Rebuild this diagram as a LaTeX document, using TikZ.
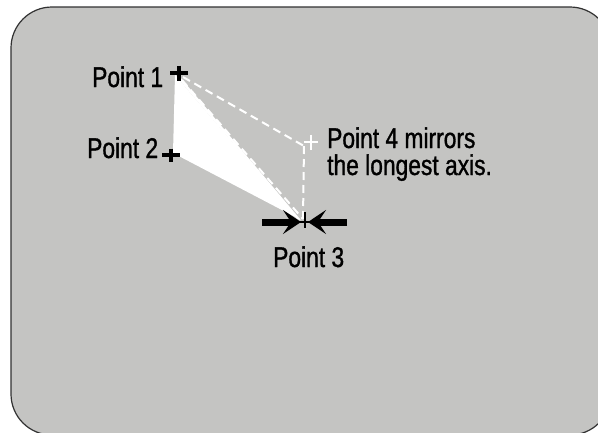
\documentclass[tikz,border=0pt]{standalone}
\usepackage{fontspec}
\setmainfont{Liberation Sans}[FakeStretch=0.8,FakeBold=1.1]
\usetikzlibrary{arrows.meta,calc}
\definecolor{panelgray}{RGB}{196,196,194}
\definecolor{panelborder}{RGB}{50,50,50}
\tikzset{
  lbl/.style={anchor=base west, inner sep=0pt, font=\fontsize{28.5}{29}\selectfont, text=black},
  darkcross/.style={line width=3.5pt, black},
  whitecross/.style={line width=2.2pt, white},
  guide/.style={white, line width=2pt, dash pattern=on 8pt off 5pt},
  pincer/.style={line width=7pt, black, -{Stealth[length=18pt,width=24pt,inset=8pt]}}
}
\begin{document}
\begin{tikzpicture}[x=1pt,y=-1pt]
\useasboundingbox (0,0) rectangle (598,432);
\clip (0,0) rectangle (598,432);
\fill[white] (0,0) rectangle (598,432);
\draw[panelborder, fill=panelgray, line width=1.2pt, rounded corners=41pt] (11,7) rectangle (611,435);

% points
\coordinate (p1) at (179,73);
\coordinate (p2) at (171,155);
\coordinate (p3) at (305,222);
\coordinate (p4) at (311,142);
\coordinate (p4c) at (304,146);

% white filled wedge
\fill[white] (175,75) -- (173,153) -- (301,220) -- (299,220) -- cycle;
\fill[white] (175,75) -- (180,77) -- (300,219) -- (297,219) -- cycle;

% dashed guides
\draw[guide] (183,77) -- (p4c);
\draw[guide] (p4c) -- (303,219);
\draw[guide] (182,80) -- (303,219);

% crosses
\draw[darkcross] ($(p1)+(-9,0)$) -- ($(p1)+(9,0)$);
\draw[darkcross] ($(p1)+(0,-7.5)$) -- ($(p1)+(0,7.5)$);
\draw[darkcross] ($(p2)+(-9,0)$) -- ($(p2)+(9,0)$);
\draw[darkcross] ($(p2)+(0,-6.5)$) -- ($(p2)+(0,6.5)$);
\draw[whitecross] ($(p4)+(-7,0)$) -- ($(p4)+(7,0)$);
\draw[whitecross] ($(p4)+(0,-7.5)$) -- ($(p4)+(0,7.5)$);

% pincer arrows at point 3
\coordinate (la) at (262,222);
\coordinate (ra) at (347,222);
\draw[pincer] (la) -- (301,222);
\draw[pincer] (ra) -- (308,222);
\draw[black, line width=1.6pt] ($(p3)+(0,-10)$) -- ($(p3)+(0,6)$);
\draw[black, line width=1.6pt] ($(p3)+(-5,0)$) -- ($(p3)+(5,0)$);

% labels
\node[lbl] (t1) at (92,87) {Point 1};
\node[lbl] (t2) at (87,158) {Point 2};
\node[lbl] (t3) at (273,267) {Point 3};
\node[lbl] (t4a) at (327,148) {Point 4 mirrors};
\node[lbl] (t4b) at (327,175) {the longest axis.};
\end{tikzpicture}
\end{document}
